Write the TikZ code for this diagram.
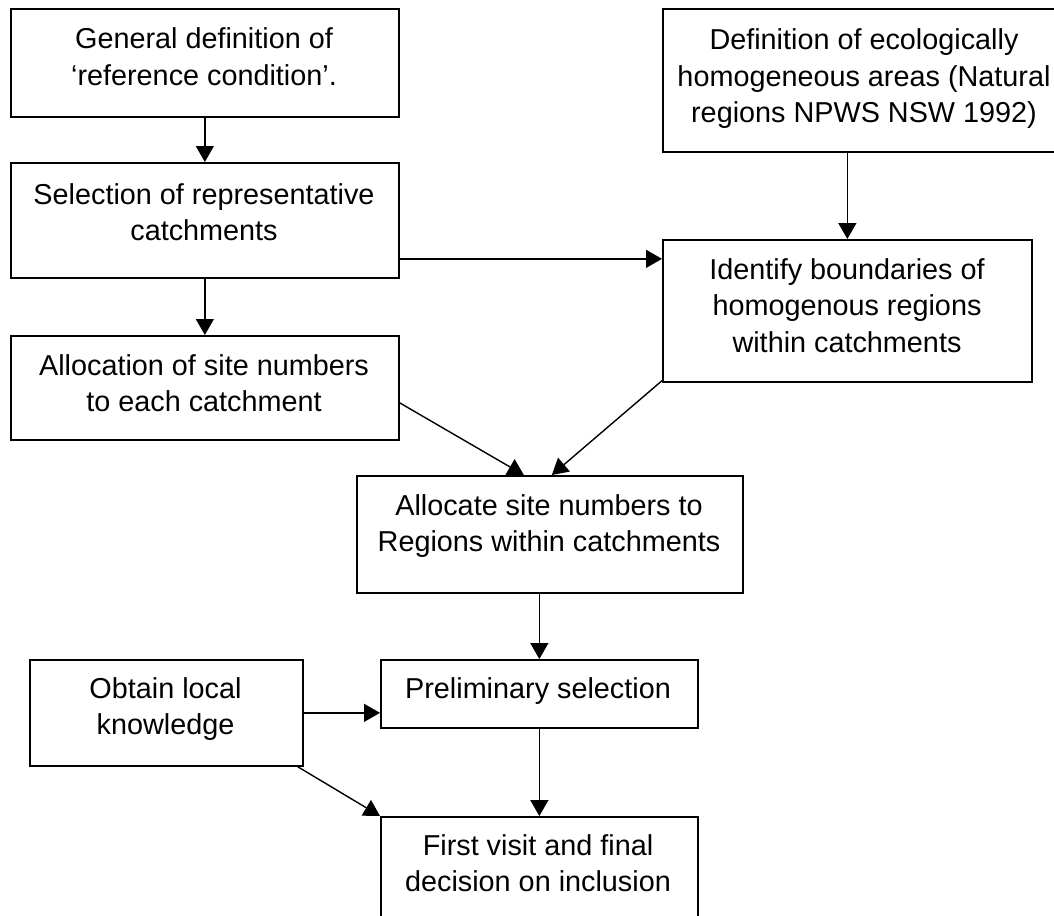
\documentclass[tikz,border=0pt]{standalone}
\usepackage{fontspec}
\setmainfont{Liberation Sans}
\usetikzlibrary{arrows.meta}
\begin{document}
\begin{tikzpicture}[x=1pt,y=-1pt,
  box/.style={draw=black,line width=1.7pt,anchor=north west,inner sep=0pt,rectangle},
  lbl/.style={anchor=base,align=center,inner sep=0pt,font=\fontsize{28.8}{36.5}\selectfont},
  arr/.style={line width=1.4pt,-{Triangle[length=16pt,width=18pt]}}]
\useasboundingbox[fill=white] (0,0) rectangle (1054,915);
% boxes
\node[box,minimum width=388pt,minimum height=108pt] (A) at (10,8) {};
\node[box,minimum width=388pt,minimum height=115pt] (B) at (10,162) {};
\node[box,minimum width=388pt,minimum height=104pt] (C) at (10,335) {};
\node[box,minimum width=392pt,minimum height=143pt] (D) at (662,8) {};
\node[box,minimum width=369pt,minimum height=142pt] (I) at (662,239) {};
\node[box,minimum width=386pt,minimum height=117pt] (E) at (356,475) {};
\node[box,minimum width=273pt,minimum height=106pt] (O) at (29,659) {};
\node[box,minimum width=317pt,minimum height=68pt] (P) at (380,659) {};
\node[box,minimum width=317pt,minimum height=140pt] (F) at (380,816) {};
% labels (anchor base = baseline of last line)
\node[lbl] (tA) at (204,85.5) {General definition of\\‘reference condition’.};
\node[lbl] (tB) at (204,240.5) {Selection of representative\\catchments};
\node[lbl] (tC) at (204,411.5) {Allocation of site numbers\\to each catchment};
\node[lbl] (tD) at (864,123) {Definition of ecologically\\homogeneous areas (Natural\\regions NPWS NSW 1992)};
\node[lbl] (tI) at (847,352) {Identify boundaries of\\homogenous regions\\within catchments};
\node[lbl] (tE) at (549,551.5) {Allocate site numbers to\\Regions within catchments};
\node[lbl] (tO) at (165.5,734.5) {Obtain local\\knowledge};
\node[lbl] (tP) at (538,698) {Preliminary selection};
\node[lbl] (tF) at (538,891.5) {First visit and final\\decision on inclusion};
% connectors
\coordinate (bs) at ([yshift=-38.5pt]B.east);
\draw[arr] (A.south) -- (B.north);
\draw[arr] (B.south) -- (C.north);
\draw[arr] (bs) -- (bs -| I.west);
\draw[arr] (D.south -| I.north) -- (I.north);
\draw[arr] ([yshift=-15pt]C.east) -- ([xshift=-26pt]E.north);
\draw[arr] ([yshift=2pt]I.south west) -- ([xshift=2pt]E.north);
\draw[arr] (E.south -| P.north) -- (P.north);
\draw[arr] (O.east) -- (O.east -| P.west);
\draw[arr] (P.south) -- (F.north);
\draw[arr] ([xshift=-6pt]O.south east) -- (F.north west);
\end{tikzpicture}
\end{document}
